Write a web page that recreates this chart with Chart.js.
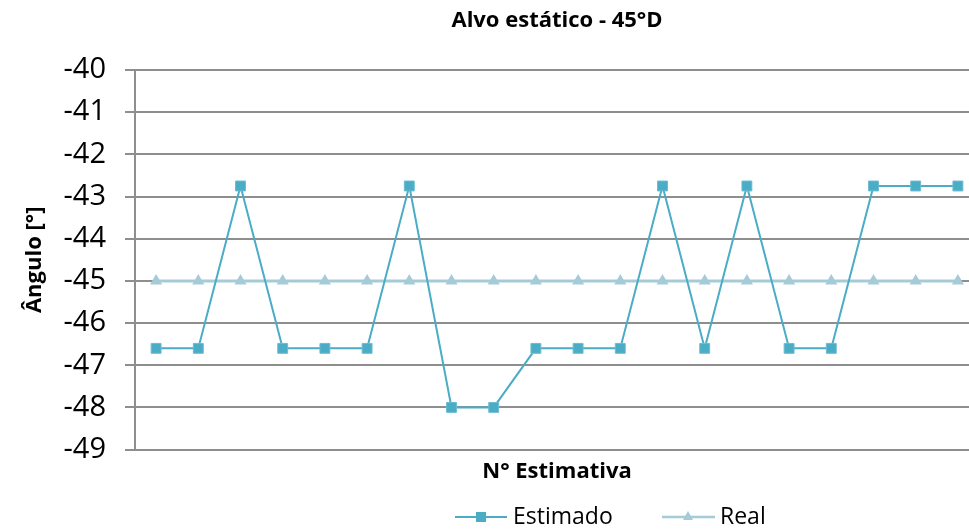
<!DOCTYPE html>
<html>
<head>
<meta charset="utf-8">
<title>Alvo estático - 45°D</title>
<script src="https://cdn.jsdelivr.net/npm/chart.js@4.4.0/dist/chart.umd.min.js"></script>
<style>
  html, body { margin: 0; padding: 0; background: #fff; overflow: hidden; }
  #wrap { width: 969px; height: 531px; overflow: hidden; }
  canvas { display: block; }
</style>
</head>
<body>
<div id="wrap"><canvas id="myChart" width="990" height="531"></canvas></div>
<script>
// data
const estimativas = ['1', '2', '3', '4', '5', '6', '7', '8', '9', '10',
                     '11', '12', '13', '14', '15', '16', '17', '18', '19', '20'];
const estimado = [-46.6, -46.6, -42.75, -46.6, -46.6, -46.6, -42.75, -48, -48, -46.6,
                  -46.6, -46.6, -42.75, -46.6, -42.75, -46.6, -46.6, -42.75, -42.75, -42.75];
const real = [-45, -45, -45, -45, -45, -45, -45, -45, -45, -45,
              -45, -45, -45, -45, -45, -45, -45, -45, -45, -45];
const yMin = -49;
const yMax = -40;
const yStep = 1;

const corEstimado = '#4bacc6';
const corReal = '#a5cbd8';
const corGrade = '#8e8e8e';

Chart.defaults.font.family = "'Open Sans', sans-serif";
Chart.defaults.color = '#000';

// title over the plot area and an Excel-like legend (line + marker)
const extras = {
  id: 'extras',
  afterDraw(chart) {
    const c = chart.ctx;
    const area = chart.chartArea;
    c.save();
    c.fillStyle = '#000';
    c.textBaseline = 'middle';
    c.textAlign = 'center';
    c.font = "bold 22px 'Open Sans', sans-serif";
    c.fillText('Alvo estático - 45°D', (area.left + area.right) / 2, 21);

    const y = 517;
    c.textAlign = 'left';
    c.font = "23px 'Open Sans', sans-serif";

    // Estimado
    c.strokeStyle = corEstimado;
    c.lineWidth = 2;
    c.beginPath(); c.moveTo(455, y); c.lineTo(507, y); c.stroke();
    c.fillStyle = corEstimado;
    c.fillRect(476, y - 5, 10, 10);
    c.fillStyle = '#000';
    c.fillText('Estimado', 513, y);

    // Real
    c.strokeStyle = corReal;
    c.lineWidth = 2.5;
    c.beginPath(); c.moveTo(662, y); c.lineTo(715, y); c.stroke();
    c.fillStyle = corReal;
    c.beginPath(); c.moveTo(688, y - 6); c.lineTo(693, y + 3); c.lineTo(683, y + 3); c.closePath(); c.fill();
    c.fillStyle = '#000';
    c.fillText('Real', 720, y);
    c.restore();
  }
};

new Chart(document.getElementById('myChart'), {
  type: 'line',
  data: {
    labels: estimativas,
    datasets: [
      {
        label: 'Estimado',
        data: estimado,
        borderColor: corEstimado,
        backgroundColor: corEstimado,
        borderWidth: 2,
        pointStyle: 'rect',
        pointRadius: 7,
        pointBorderColor: '#6cbcd2',
        pointBorderWidth: 1,
        tension: 0,
        order: 0
      },
      {
        label: 'Real',
        data: real,
        borderColor: corReal,
        backgroundColor: corReal,
        borderWidth: 3,
        pointStyle: 'triangle',
        pointRadius: 7,
        pointBorderWidth: 0,
        tension: 0,
        order: 1
      }
    ]
  },
  options: {
    responsive: false,
    animation: false,
    layout: { padding: { top: 70, right: 11, bottom: 37, left: 0 } },
    plugins: {
      legend: { display: false },
      title: { display: false },
      tooltip: { enabled: false }
    },
    scales: {
      x: {
        offset: true,
        ticks: { display: false },
        grid: { display: false, drawTicks: false },
        border: { display: true, color: corGrade, width: 2 },
        title: {
          display: true,
          text: 'N° Estimativa',
          font: { size: 22, weight: 'bold' },
          padding: { top: 9, bottom: 9 }
        }
      },
      y: {
        min: yMin,
        max: yMax,
        ticks: {
          stepSize: yStep,
          padding: 19,
          font: { size: 29 }
        },
        grid: { color: corGrade, lineWidth: 2, tickLength: 10 },
        border: { display: true, color: corGrade, width: 2 },
        title: {
          display: true,
          text: 'Ângulo [°]',
          font: { size: 22, weight: 'bold' },
          padding: { top: 22, bottom: 0 }
        },
        afterFit(scale) { scale.width = 135; }
      }
    }
  },
  plugins: [extras]
});
</script>
</body>
</html>
